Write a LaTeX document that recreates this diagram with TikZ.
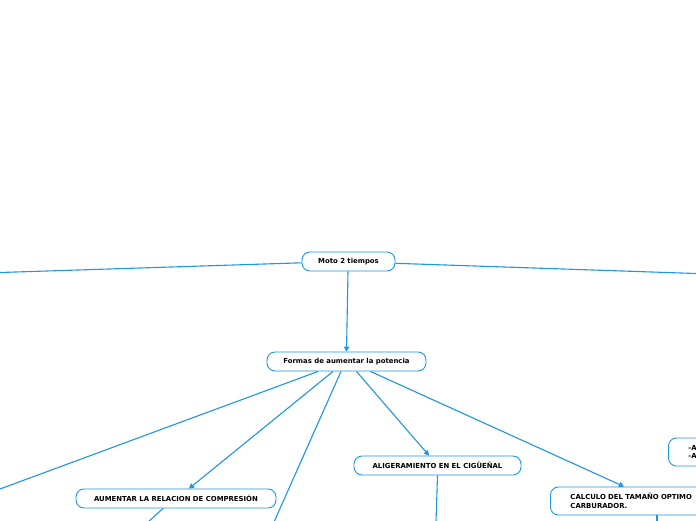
\documentclass[tikz,border=0pt]{standalone}
\usepackage{fontspec}
\setmainfont{DejaVu Sans}
\usetikzlibrary{arrows.meta}
\definecolor{lnblue}{RGB}{30,150,228}
\tikzset{
  topic/.style={draw=lnblue, line width=0.9pt, rounded corners=8pt, fill=white,
    font=\bfseries\fontsize{6.9}{8.4}\selectfont, inner sep=2pt, anchor=center},
  link/.style={draw=lnblue, line width=1.1pt},
  arr/.style={link, -{Triangle[width=5.5pt,length=5pt]}}
}
\begin{document}
\begin{tikzpicture}[x=1pt,y=-1pt]
\useasboundingbox (0,0) rectangle (696,520);
\fill[white] (0,0) rectangle (696,520);
% free ends
\coordinate (L1) at (0,272.5);
\coordinate (R1) at (696,273.5);
\coordinate (L2) at (0,489);
\coordinate (D1) at (274,522);
\coordinate (D2) at (148,522);
\coordinate (D3) at (436,522);
\coordinate (D4) at (657,522);
% nodes
\node[topic, minimum width=93pt, minimum height=19pt] (moto) at (348.5,261.5) {Moto 2 tiempos};
\node[topic, minimum width=159pt, minimum height=19pt] (formas) at (346.5,361.5) {Formas de aumentar la potencia};
\node[topic, minimum width=200pt, minimum height=19pt] (comp) at (176,498.5) {AUMENTAR LA RELACION DE COMPRESIÓN};
\node[topic, minimum width=167pt, minimum height=19pt] (alig) at (437.5,465.5) {ALIGERAMIENTO EN EL CIGÜEÑAL};
\node[topic, minimum width=220pt, minimum height=28pt, anchor=west, align=left, text width=180pt, inner xsep=20pt] (carb) at (550,501) {CALCULO DEL TAMAÑO OPTIMO\\CARBURADOR.};
\node[topic, minimum width=100pt, minimum height=28pt, anchor=west, align=left, text width=60pt, inner xsep=20pt] (right) at (668,452) {-A\\-A};
% connectors
\draw[link] (moto.west |- 0,262.8) -- (L1);
\draw[link] (moto.east |- 0,263.3) -- (R1);
\draw[arr] ([xshift=-0.5pt]moto.south) -- (formas.north);
\draw[link] ([xshift=-28.5pt]formas.south) -- (L2);
\draw[arr] ([xshift=-13.5pt]formas.south) -- ([xshift=13pt]comp.north);
\draw[link] ([xshift=-5.5pt]formas.south) -- (D1);
\draw[arr] ([xshift=10pt]formas.south) -- ([xshift=-8.5pt]alig.north);
\draw[arr] ([xshift=24pt]formas.south) -- (carb.north west -| 624,0);
\draw[link] ([xshift=-13pt]comp.south) -- (D2);
\draw[link] (alig.south) -- (D3);
\draw[link] (carb.south west -| 657,0) -- (D4);
\end{tikzpicture}
\end{document}
